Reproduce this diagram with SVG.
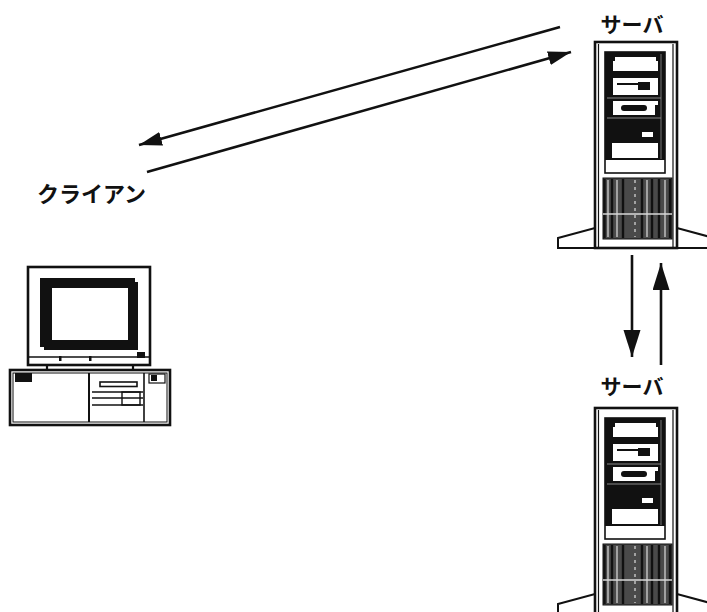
<svg xmlns="http://www.w3.org/2000/svg" xmlns:xlink="http://www.w3.org/1999/xlink" width="707" height="612" viewBox="0 0 707 612">
  <style>
    .lbl { font-family: "Noto Sans CJK JP", "Noto Sans", sans-serif; font-weight: bold; fill: #111; }
    .ln { stroke: #111; fill: none; }
    .conn { stroke: #111; stroke-width: 2.6; fill: none; }
  </style>
  <defs>
    <marker id="headDiag" markerUnits="userSpaceOnUse" markerWidth="26" markerHeight="16" refX="23" refY="7" orient="auto">
      <path d="M0,0 L23,7 L0,14 Z" fill="#111"/>
    </marker>
    <marker id="headVert" markerUnits="userSpaceOnUse" markerWidth="29" markerHeight="18" refX="27" refY="8.5" orient="auto">
      <path d="M0,0 L27,8.5 L0,17 Z" fill="#111"/>
    </marker>
    <!-- tower server, origin at top-left corner of the cabinet -->
    <g id="tower">
      <polygon points="-37,196 0,186 82,186 119,196 119,206 -37,206" fill="#fff" stroke="#111" stroke-width="2"/>
      <rect x="0" y="0" width="82" height="206" fill="#fff" stroke="#111" stroke-width="2.6"/>
      <line x1="3.5" y1="2" x2="3.5" y2="205" stroke="#111" stroke-width="1.2"/>
      <line x1="78" y1="2" x2="78" y2="205" stroke="#111" stroke-width="1.2"/>
      <!-- front panel -->
      <rect x="10" y="10" width="60" height="121" fill="#fff" stroke="#111" stroke-width="1.6"/>
      <rect x="10" y="10" width="60" height="108" fill="#111"/>
      <line x1="66" y1="12" x2="66" y2="117" stroke="#777" stroke-width="1"/>
      <!-- drive bays -->
      <path d="M20,15 H61 V19 H63 V29 H18 V19 H20 Z" fill="#fff"/>
      <rect x="18" y="36" width="45" height="17" fill="#fff"/>
      <rect x="22" y="41" width="21" height="2" fill="#111"/>
      <rect x="43" y="40" width="12" height="8" fill="#111"/>
      <line x1="12" y1="56" x2="66" y2="56" stroke="#888" stroke-width="1"/>
      <rect x="18" y="59" width="45" height="14" fill="#fff"/>
      <rect x="26" y="63" width="26" height="6" rx="3" fill="#111"/>
      <rect x="60" y="63" width="4" height="10" fill="#111"/>
      <line x1="12" y1="76" x2="66" y2="76" stroke="#888" stroke-width="1"/>
      <rect x="47" y="90" width="11" height="5" fill="#fff"/>
      <rect x="17" y="101" width="46" height="15" fill="#fff"/>
      <!-- vent grille -->
      <rect x="8" y="136" width="69" height="61" fill="#4a4a4a" stroke="#111" stroke-width="1"/>
      <g stroke="#111" stroke-width="2.4">
        <line x1="9.5" y1="137" x2="9.5" y2="196"/>
        <line x1="17" y1="137" x2="17" y2="196"/>
        <line x1="28" y1="137" x2="28" y2="196"/>
        <line x1="47" y1="137" x2="47" y2="196"/>
        <line x1="57" y1="137" x2="57" y2="196"/>
        <line x1="64" y1="137" x2="64" y2="196"/>
        <line x1="75" y1="137" x2="75" y2="196"/>
      </g>
      <g stroke="#c8c8c8" stroke-width="1.4">
        <line x1="13" y1="138" x2="13" y2="195"/>
        <line x1="22" y1="138" x2="22" y2="195"/>
        <line x1="40" y1="138" x2="40" y2="195" stroke-dasharray="3,4"/>
        <line x1="52" y1="138" x2="52" y2="195"/>
        <line x1="70" y1="138" x2="70" y2="195"/>
      </g>
      <line x1="8" y1="172" x2="77" y2="172" stroke="#d8d8d8" stroke-width="1.4"/>
    </g>
  </defs>

  <!-- connectors -->
  <g id="connectors">
    <line class="conn" x1="560" y1="27" x2="139" y2="145" marker-end="url(#headDiag)"/>
    <line class="conn" x1="147" y1="172" x2="571" y2="52" marker-end="url(#headDiag)"/>
    <line class="conn" x1="632" y1="255" x2="632" y2="357" marker-end="url(#headVert)"/>
    <line class="conn" x1="661" y1="365" x2="661" y2="263" marker-end="url(#headVert)"/>
  </g>

  <!-- upper server -->
  <g id="server1">
    <text class="lbl" x="632" y="32" font-size="21" text-anchor="middle">サーバ</text>
    <use xlink:href="#tower" href="#tower" transform="translate(595,42)"/>
  </g>

  <!-- lower server -->
  <g id="server2">
    <text class="lbl" x="632" y="394" font-size="21" text-anchor="middle">サーバ</text>
    <use xlink:href="#tower" href="#tower" transform="translate(595,408)"/>
  </g>

  <!-- client PC -->
  <g id="client">
    <text class="lbl" x="37" y="202" font-size="22">クライアン</text>
    <!-- monitor -->
    <rect x="28" y="267" width="122" height="98" fill="#fff" stroke="#111" stroke-width="2.6"/>
    <line x1="28" y1="357" x2="150" y2="357" stroke="#111" stroke-width="1.4"/>
    <rect x="59" y="356" width="2.5" height="5" fill="#111"/>
    <rect x="89" y="356" width="2.5" height="5" fill="#111"/>
    <rect x="40" y="278" width="98" height="72" fill="#111"/>
    <rect x="52" y="288" width="76" height="52" fill="#fff"/>
    <rect x="135" y="278" width="3" height="4" fill="#fff"/>
    <rect x="40" y="347" width="4" height="3" fill="#fff"/>
    <rect x="137" y="352" width="8" height="6" fill="#111"/>
    <!-- stand -->
    <line x1="47" y1="365" x2="47" y2="371" stroke="#111" stroke-width="2.2"/>
    <line x1="133" y1="365" x2="133" y2="371" stroke="#111" stroke-width="2.2"/>
    <!-- desktop case -->
    <rect x="10" y="370" width="160" height="55" fill="#fff" stroke="#111" stroke-width="2.6"/>
    <rect x="13" y="373" width="154" height="49" class="ln" stroke-width="1"/>
    <rect x="15" y="373" width="17" height="9" fill="#111"/>
    <line x1="89" y1="373" x2="89" y2="422" stroke="#111" stroke-width="2"/>
    <line x1="144" y1="373" x2="144" y2="422" stroke="#111" stroke-width="1.6"/>
    <rect x="100" y="382" width="37" height="4.5" fill="#fff" stroke="#111" stroke-width="1.6"/>
    <line x1="92" y1="392" x2="143" y2="392" stroke="#111" stroke-width="1.4"/>
    <line x1="92" y1="398" x2="143" y2="398" stroke="#111" stroke-width="1.4"/>
    <line x1="92" y1="405" x2="143" y2="405" stroke="#111" stroke-width="1.4"/>
    <rect x="122" y="392" width="18" height="13" class="ln" stroke-width="1.4"/>
    <rect x="149" y="374" width="16" height="9" class="ln" stroke-width="1.2"/>
    <rect x="151" y="375" width="6" height="6" fill="#111"/>
  </g>
</svg>
